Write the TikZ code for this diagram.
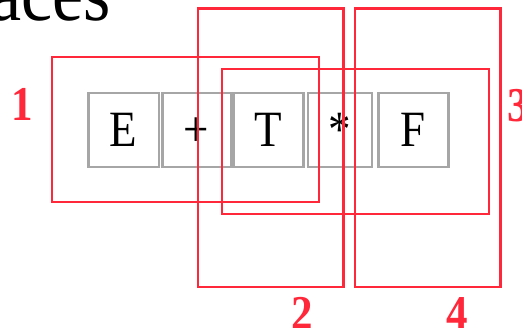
\documentclass[tikz,border=0pt]{standalone}
\usepackage{fontspec}
\setmainfont{Liberation Serif}
\definecolor{groupred}{RGB}{255,40,58}
\definecolor{cellgray}{RGB}{166,166,166}
% glyphs are set slightly taller than wide
\newcommand{\tall}[1]{\scalebox{1}[1.13]{#1}}
\begin{document}
\begin{tikzpicture}[x=1pt,y=-1pt,
  cell/.style={draw=cellgray,line width=2.4pt,minimum height=74pt,inner sep=0pt,
    text height=32pt,text depth=0pt,font=\fontsize{45}{45}\selectfont},
  group/.style={draw=groupred,line width=2.6pt,inner sep=0pt},
  tag/.style={text=groupred,inner sep=0pt,font=\fontsize{43}{43}\selectfont\bfseries},
  title/.style={inner sep=0pt,font=\fontsize{70}{70}\selectfont}]
\useasboundingbox (0,0) rectangle (522,328);

% heading, cut by the top edge
\node[title,anchor=base east] (head) at (111,21) {\tall{aces}};

% the symbol cells
\node[cell,minimum width=70.7pt] (cE) at (123.65,130.3) {\tall{E}};
\node[cell,minimum width=68.4pt] (cplus) at (196.5,130.3) {\tall{+}};
\node[cell,minimum width=70pt] (cT) at (268.3,130.3) {\tall{T}};
\node[cell,minimum width=64pt] (cstar) at (340,130.3) {\tall{*}};
\node[cell,minimum width=70pt] (cF) at (413.3,130.3) {\tall{F}};

% overlapping groups
\node[group,minimum width=267pt,minimum height=145pt] (g1) at (185.5,129.5) {};
\node[group,minimum width=145.5pt,minimum height=278.5pt] (g2) at (270.75,147.75) {};
\node[group,minimum width=267pt,minimum height=145pt] (g3) at (355.5,141.5) {};
\node[group,minimum width=145.7pt,minimum height=278.5pt] (g4) at (427.85,147.75) {};

% group numbers
\node[tag,anchor=base] (t1) at (22,121) {\tall{1}};
\node[tag,anchor=base west] (t3) at (507,122) {\tall{3}};
\node[tag,anchor=base west] (t2) at (291,330) {\tall{2}};
\node[tag,anchor=base west] (t4) at (446,330) {\tall{4}};
\end{tikzpicture}
\end{document}
